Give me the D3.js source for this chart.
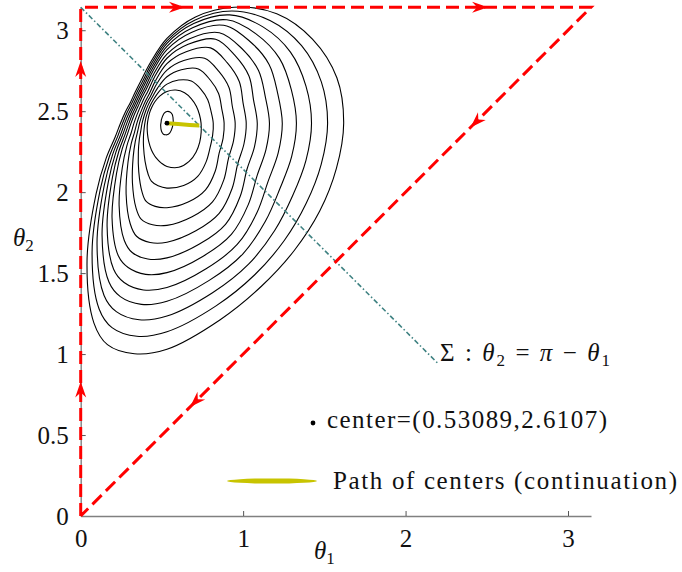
<!DOCTYPE html>
<html lang="en">
<head>
<meta charset="UTF-8">
<title>level sets</title>
<script src="https://d3js.org/d3.v7.min.js"></script>
<style>
  * { margin: 0; padding: 0 }
  body { background: #fff; }
  text { font-family: "Liberation Serif", "DejaVu Serif", serif; fill: #111; }
</style>
</head>
<body>
<script>
const PI = Math.PI;

// ticks
const xTickValues = [0, 1, 2, 3];
const yTickValues = [0, 0.5, 1, 1.5, 2, 2.5, 3];

// closed level curves: distance (theta units) from the centre to each curve, read along rays
const contourCenter = [0.531, 2.426];
const rayAngles = [0, 15, 30, 45, 60, 75, 90, 105, 120, 135, 150, 165, 180, 195, 210, 225, 240, 250, 255, 262, 270, 285, 300, 315, 330, 345];
const contourRadii = [
  [.037, .040, .044, .052, .064, .072, .072, .064, .052, .044, .040, .037, .037, .040, .044, .052, .063, .070, .072, .072, .072, .064, .052, .044, .040, .037],
  [.210, .207, .209, .213, .217, .212, .196, .173, .151, .134, .124, .119, .120, .126, .138, .159, .191, .217, .230, .249, .267, .282, .273, .253, .233, .218],
  [.285, .281, .290, .296, .300, .276, .241, .199, .167, .148, .137, .134, .136, .146, .167, .204, .270, .337, .371, .391, .401, .398, .379, .340, .306, .291],
  [.352, .349, .367, .377, .387, .342, .287, .224, .183, .162, .151, .148, .153, .166, .196, .249, .347, .450, .499, .519, .522, .504, .475, .420, .371, .358],
  [.420, .416, .441, .452, .463, .401, .328, .249, .198, .176, .164, .162, .169, .186, .225, .294, .425, .557, .614, .634, .631, .598, .561, .495, .437, .424],
  [.488, .485, .514, .526, .537, .457, .368, .272, .214, .189, .177, .176, .185, .206, .254, .339, .503, .661, .723, .744, .735, .688, .643, .568, .503, .491],
  [.556, .552, .583, .592, .599, .504, .401, .295, .232, .205, .192, .192, .203, .228, .286, .389, .589, .769, .827, .847, .832, .773, .721, .638, .569, .558],
  [.631, .627, .651, .652, .645, .540, .426, .315, .249, .220, .206, .208, .221, .251, .318, .439, .676, .873, .923, .943, .923, .852, .793, .709, .642, .631],
  [.710, .706, .726, .718, .698, .580, .454, .333, .262, .231, .217, .220, .234, .267, .341, .475, .737, .960, 1.019, 1.040, 1.015, .931, .865, .783, .719, .709],
  [.797, .793, .800, .778, .737, .610, .475, .348, .275, .242, .228, .231, .247, .283, .364, .510, .799, 1.044, 1.109, 1.130, 1.100, 1.005, .933, .857, .804, .795],
  [.890, .886, .878, .839, .772, .637, .493, .362, .287, .253, .238, .242, .260, .298, .386, .546, .861, 1.132, 1.205, 1.226, 1.191, 1.084, 1.005, .938, .894, .886],
  [.989, .984, .957, .897, .800, .658, .508, .376, .299, .264, .249, .254, .273, .314, .409, .581, .922, 1.221, 1.307, 1.329, 1.288, 1.168, 1.081, 1.023, .990, .983],
  [1.088, 1.083, 1.036, .956, .827, .679, .523, .389, .312, .275, .259, .265, .286, .330, .432, .617, .984, 1.314, 1.416, 1.438, 1.396, 1.258, 1.163, 1.110, 1.086, 1.080]
];

// centre and continuation path
const centerPoint = [0.531, 2.426];
const centerPath = [[0.531, 2.426], [0.60, 2.421], [0.67, 2.415], [0.730, 2.411]];

// triangle boundary (flow direction) and arrows: [theta1, theta2, segment]
const boundary = [[0, 0], [0, PI], [PI, PI], [0, 0]];
const arrowTips = [[0, 0.83, 0], [0, 2.81, 0], [0.642, PI, 1], [2.508, PI, 1], [2.40, 2.40, 2], [0.673, 0.673, 2]];

// symmetry line Sigma
const sigmaLine = [[0, PI], [2.2, PI - 2.2]];

const W = 682, H = 572;
const x = d3.scaleLinear().domain([0, PI]).range([80.7, 591]);
const y = d3.scaleLinear().domain([0, PI]).range([516, 7.3]);

const svg = d3.select('body').append('svg')
  .attr('width', W).attr('height', H)
  .style('background', '#fff');

// axes
const gx = svg.append('g').attr('transform', `translate(0,${y(0)})`)
  .call(d3.axisBottom(x).tickValues(xTickValues).tickFormat(d => String(d))
    .tickSizeInner(-5).tickSizeOuter(0).tickPadding(13));
const gy = svg.append('g').attr('transform', `translate(${x(0)},0)`)
  .call(d3.axisLeft(y).tickValues(yTickValues).tickFormat(d => String(d))
    .tickSizeInner(-5).tickSizeOuter(0).tickPadding(12));
[gx, gy].forEach(g => {
  g.select('.domain').attr('stroke', '#808080').attr('stroke-width', 1.4);
  g.selectAll('.tick line').attr('stroke', '#555').attr('stroke-width', 1);
  g.selectAll('.tick text').attr('font-family', '"Liberation Serif", serif')
    .attr('font-size', 25).attr('fill', '#111');
});
gx.selectAll('.tick').filter(d => d === 0).select('line').remove();
gy.selectAll('.tick').filter(d => d === 0).select('line').remove();

// level curves
const ang = d => d * PI / 180;
const curve = d3.line()
  .x(d => x(d[0])).y(d => y(d[1]))
  .curve(d3.curveCatmullRomClosed.alpha(0.5));
svg.append('g').selectAll('path')
  .data(contourRadii)
  .join('path')
  .attr('d', radii => curve(radii.map((r, i) => [
    contourCenter[0] + r * Math.cos(ang(rayAngles[i])),
    contourCenter[1] + r * Math.sin(ang(rayAngles[i]))
  ])))
  .attr('fill', 'none')
  .attr('stroke', '#000')
  .attr('stroke-width', 1.1);

// Sigma line
const line = d3.line().x(d => x(d[0])).y(d => y(d[1]));
svg.append('path')
  .attr('d', line(sigmaLine))
  .attr('fill', 'none')
  .attr('stroke', '#3f8282')
  .attr('stroke-width', 1.6)
  .attr('stroke-dasharray', '5,2.5,1.5,2.5');

// red dashed boundary
svg.append('path')
  .attr('d', line(boundary))
  .attr('fill', 'none')
  .attr('stroke', '#ff0000')
  .attr('stroke-width', 3)
  .attr('stroke-dasharray', '13,6');

svg.append('g').selectAll('path')
  .data(arrowTips)
  .join('path')
  .attr('d', 'M0,0 L-16,-5.5 L-11,0 L-16,5.5 Z')
  .attr('fill', '#ff0000')
  .attr('transform', d => {
    const a = boundary[d[2]], b = boundary[d[2] + 1];
    const deg = Math.atan2(y(b[1]) - y(a[1]), x(b[0]) - x(a[0])) * 180 / PI;
    return `translate(${x(d[0])},${y(d[1])}) rotate(${deg})`;
  });

// path of centres and centre
svg.append('path')
  .attr('d', line(centerPath))
  .attr('fill', 'none')
  .attr('stroke', '#c8c400')
  .attr('stroke-width', 4);
svg.append('circle')
  .attr('cx', x(centerPoint[0])).attr('cy', y(centerPoint[1]))
  .attr('r', 2.4).attr('fill', '#000');

// labels
const sigma = svg.append('text').attr('x', 440).attr('y', 361).attr('font-size', 25)
  .attr('textLength', 170).attr('lengthAdjust', 'spacing');
sigma.append('tspan').text('Σ : ');
sigma.append('tspan').attr('font-style', 'italic').text('θ');
sigma.append('tspan').attr('font-size', 17).attr('dy', 5).text('2');
sigma.append('tspan').attr('dy', -5).text(' = ');
sigma.append('tspan').attr('font-style', 'italic').text('π');
sigma.append('tspan').text(' − ');
sigma.append('tspan').attr('font-style', 'italic').text('θ');
sigma.append('tspan').attr('font-size', 17).attr('dy', 5).text('1');

const xl = svg.append('text').attr('x', 314).attr('y', 559).attr('font-size', 25);
xl.append('tspan').attr('font-style', 'italic').text('θ');
xl.append('tspan').attr('font-size', 17).attr('dy', 5).text('1');

const yl = svg.append('text').attr('x', 13).attr('y', 246).attr('font-size', 25);
yl.append('tspan').attr('font-style', 'italic').text('θ');
yl.append('tspan').attr('font-size', 17).attr('dy', 5).text('2');

// legend
svg.append('circle').attr('cx', 313).attr('cy', 423).attr('r', 2.4).attr('fill', '#000');
svg.append('text').attr('x', 327).attr('y', 428).attr('font-size', 25)
  .attr('textLength', 280).attr('lengthAdjust', 'spacing')
  .text('center=(0.53089,2.6107)');
svg.append('ellipse').attr('cx', 272).attr('cy', 481).attr('rx', 45).attr('ry', 2.6)
  .attr('fill', '#c8c400');
svg.append('text').attr('x', 333).attr('y', 489).attr('font-size', 25)
  .attr('textLength', 344).attr('lengthAdjust', 'spacing')
  .text('Path of centers (continuation)');
</script>
</body>
</html>
